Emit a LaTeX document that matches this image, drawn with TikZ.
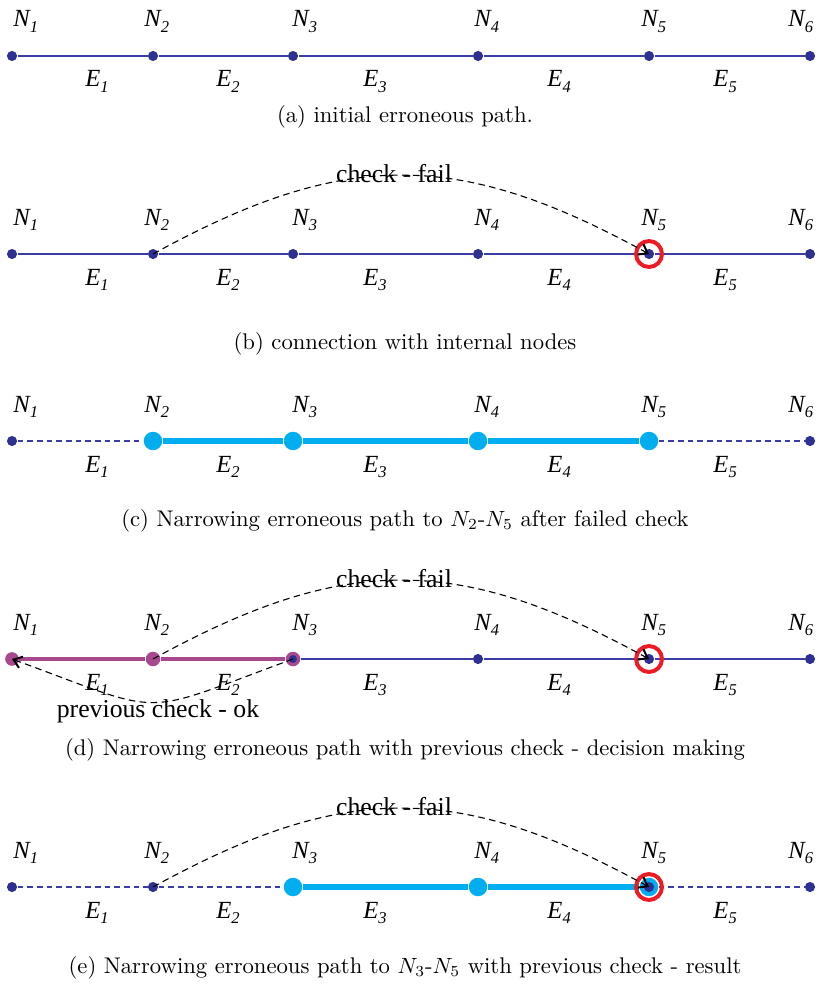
\documentclass[tikz,border=0pt]{standalone}
\usepackage{fontspec}
\newfontfamily\labfont{Liberation Serif}
\newfontfamily\chkfont{Liberation Serif}
\usetikzlibrary{arrows.meta}
\definecolor{navy}{HTML}{2E3192}
\definecolor{navyl}{HTML}{3A3DA6}
\definecolor{cyanc}{HTML}{00AEEF}
\definecolor{redc}{HTML}{ED1C24}
\definecolor{purp}{HTML}{A8488E}
\newcommand\Nl[1]{N\raisebox{-2.4pt}{\fontsize{7.5}{8}\selectfont #1}}
\newcommand\El[1]{E\raisebox{-2.4pt}{\fontsize{7.5}{8}\selectfont #1}}
\tikzset{
  nlab/.style={anchor=base west, inner sep=0pt, font=\labfont\itshape\fontsize{11.2}{13}\selectfont},
  captxt/.style={inner sep=0pt, font=\fontsize{10.3}{12}\selectfont},
  chktext/.style={anchor=base, inner sep=0pt, font=\chkfont\fontsize{11.7}{13}\selectfont},
  ndot/.style={circle, fill=navy, inner sep=0pt, minimum size=4.6pt},
  cdot/.style={circle, fill=cyanc, inner sep=0pt, minimum size=8.4pt},
  pdot/.style={circle, fill=purp, inner sep=0pt, minimum size=6.2pt},
  redring/.style={circle, draw=redc, line width=1.8pt, inner sep=0pt, minimum size=11.8pt},
  navyln/.style={draw=navyl, line width=0.5pt},
  navydash/.style={draw=navyl, line width=0.5pt, dash pattern=on 2.6pt off 1.8pt},
  thickc/.style={draw=cyanc, line width=2.3pt},
  thickp/.style={draw=purp, line width=1.9pt},
  chk/.style={draw=black, line width=0.5pt, dash pattern=on 3pt off 2pt,
    -{Straight Barb[length=3.6pt,width=5.4pt,line width=0.9pt]}},
}
\begin{document}
\begin{tikzpicture}[x=0.4545pt, y=-0.4545pt]
\useasboundingbox (0,0) rectangle (826,993);
% labels
\foreach \r/\y in {a/56,b/254,c/441,d/659,e/887}{
  \foreach \i/\lx in {1/13,2/144,3/292,4/474,5/641,6/788}
    \node[nlab] (\r N\i) at (\lx,\y-29) {\Nl{\i}};
  \foreach \i/\lx in {1/85,2/216,3/363,4/547,5/713}
    \node[nlab] (\r E\i) at (\lx,\y+31) {\El{\i}};
}
% ---------- (a)
\foreach \i/\x in {1/12,2/153,3/293,4/478,5/649,6/810}
  \node[ndot] (a\i) at (\x,56) {};
\draw[navyln] (a1) -- (a2) -- (a3) -- (a4) -- (a5) -- (a6);
\node[captxt] (capa) at (405,117) {(a) initial erroneous path.};
% ---------- (b)
\foreach \i/\x in {1/12,2/153,3/293,4/478,5/649,6/810}
  \node[ndot] (b\i) at (\x,254) {};
\draw[navyln] (b1) -- (b2) -- (b3) -- (b4) -- (b5) -- (b6);
\node[redring] (b5r) at (b5) {};
\node[chktext] (chkb) at (394,182) {check - fail};
\draw[chk] (b2.center) .. controls +(191,-105) and +(-191,-105) .. (b5.center);
\node[captxt] (capb) at (405,344) {(b) connection with internal nodes};
% ---------- (c)
\node[ndot] (c1) at (12,441) {};
\node[cdot] (c2) at (153,441) {};
\node[cdot] (c3) at (293,441) {};
\node[cdot] (c4) at (478,441) {};
\node[cdot] (c5) at (649,441) {};
\node[ndot] (c6) at (810,441) {};
\draw[navydash] (c1) -- (c2);
\draw[thickc] (c2) -- (c3) -- (c4) -- (c5);
\draw[navydash] (c5) -- (c6);
\node[captxt] (capc) at (405,521) {(c) Narrowing erroneous path to $N_2$-$N_5$ after failed check};
% ---------- (d)
\node[pdot] (d1) at (12,659) {};
\node[pdot, minimum size=6.6pt] (d2) at (153,659) {};
\node[pdot, minimum size=6.6pt] (d3) at (293,659) {};
\node[ndot, minimum size=3.6pt] (d3i) at (293,659) {};
\node[ndot] (d4) at (478,659) {};
\node[ndot] (d5) at (649,659) {};
\node[ndot] (d6) at (810,659) {};
\draw[navyln] (d3) -- (d4) -- (d5) -- (d6);
\draw[thickp] (d1) -- (d2) -- (d3);
\node[redring] (d5r) at (d5) {};
\node[chktext] (chkd) at (394,587) {check - fail};
\draw[chk] (d2.center) .. controls +(191,-105) and +(-191,-105) .. (d5.center);
\node[chktext] (okd) at (158,717) {previous check - ok};
\draw[chk] (d3.center) .. controls +(-158,58) and +(158,58) .. (d1.center);
\node[captxt] (capd) at (405,750) {(d) Narrowing erroneous path with previous check - decision making};
% ---------- (e)
\node[ndot] (e1) at (12,887) {};
\node[ndot] (e2) at (153,887) {};
\node[cdot] (e3) at (293,887) {};
\node[cdot] (e4) at (478,887) {};
\node[cdot] (e5) at (649,887) {};
\node[ndot] (e5i) at (649,887) {};
\node[ndot] (e6) at (810,887) {};
\draw[navydash] (e1) -- (e2) -- (e3);
\draw[thickc] (e3) -- (e4) -- (e5);
\draw[navydash] (e5) -- (e6);
\node[redring] (e5r) at (e5) {};
\node[chktext] (chke) at (394,815) {check - fail};
\draw[chk] (e2.center) .. controls +(191,-105) and +(-191,-105) .. (e5.center);
\node[captxt] (cape) at (405,968) {(e) Narrowing erroneous path to $N_3$-$N_5$ with previous check - result};
\end{tikzpicture}
\end{document}
